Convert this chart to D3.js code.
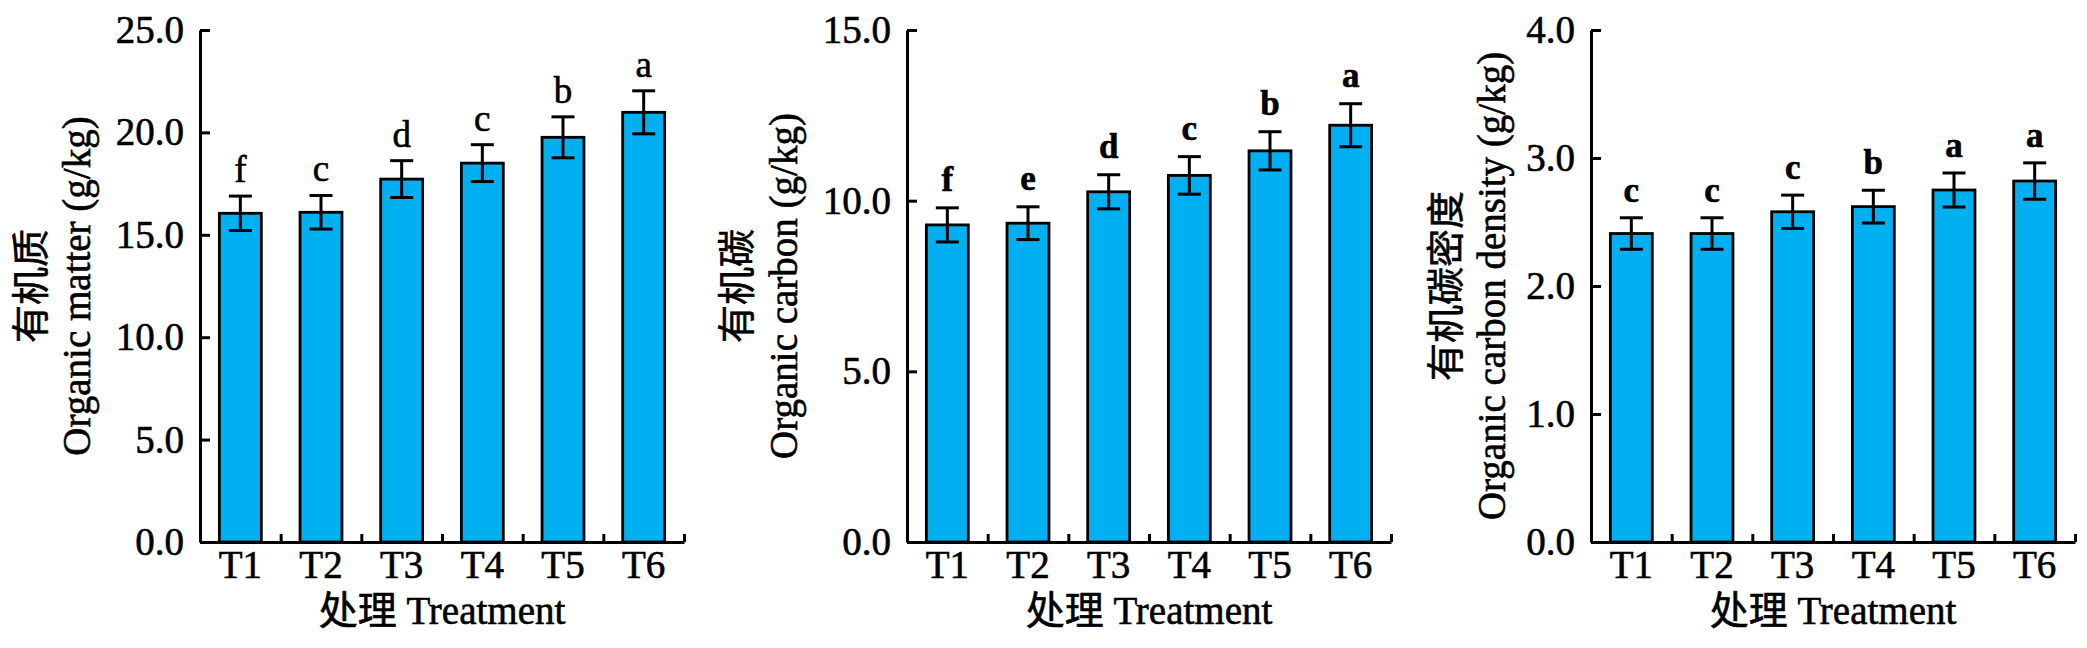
<!DOCTYPE html>
<html>
<head>
<meta charset="utf-8">
<script src="https://cdn.jsdelivr.net/npm/d3@7"></script>
<style>
  body { margin: 0; background: #fff; }
  svg text { font-family: "Liberation Serif", "Times New Roman", "Noto Sans CJK SC", serif; fill: #000; stroke: #000; stroke-width: 0.6px; }
</style>
</head>
<body>
<svg id="chart"></svg>
<script>
const size = {w: 2087, h: 648};
const plot = {t: 30, b: 542, w: 484};

// DATA
const treatments = ['T1', 'T2', 'T3', 'T4', 'T5', 'T6'];

const organicMatter = [16.05, 16.1, 17.72, 18.5, 19.76, 20.98];
const organicMatterErr = [0.84, 0.82, 0.9, 0.9, 1.0, 1.05];
const organicMatterLetters = ['f', 'c', 'd', 'c', 'b', 'a'];
const organicMatterTicks = [0, 5, 10, 15, 20, 25];

const organicCarbon = [9.29, 9.34, 10.26, 10.74, 11.46, 12.21];
const organicCarbonErr = [0.5, 0.48, 0.5, 0.55, 0.56, 0.63];
const organicCarbonLetters = ['f', 'e', 'd', 'c', 'b', 'a'];
const organicCarbonTicks = [0, 5, 10, 15];

const carbonDensity = [2.41, 2.41, 2.58, 2.62, 2.75, 2.82];
const carbonDensityErr = [0.123, 0.123, 0.13, 0.128, 0.133, 0.142];
const carbonDensityLetters = ['c', 'c', 'c', 'b', 'a', 'a'];
const carbonDensityTicks = [0, 1, 2, 3, 4];

const svg = d3.select('svg#chart')
    .attr('width', size.w)
    .attr('height', size.h);

svg.append('rect')
    .attr('width', size.w)
    .attr('height', size.h)
    .attr('fill', '#fff');

//PANELS
drawPanel({
    left: 200,
    values: organicMatter, errors: organicMatterErr, letters: organicMatterLetters,
    ticks: organicMatterTicks,
    label1: '有机质', label2: 'Organic matter (g/kg)',
    off1: 170, off2: 123,
    bold: false, letterGap: 14
});

drawPanel({
    left: 907,
    values: organicCarbon, errors: organicCarbonErr, letters: organicCarbonLetters,
    ticks: organicCarbonTicks,
    label1: '有机碳', label2: 'Organic carbon (g/kg)',
    off1: 171, off2: 123,
    bold: true, letterGap: 17
});

drawPanel({
    left: 1591,
    values: carbonDensity, errors: carbonDensityErr, letters: carbonDensityLetters,
    ticks: carbonDensityTicks,
    label1: '有机碳密度', label2: 'Organic carbon density (g/kg)',
    off1: 146, off2: 99,
    bold: true, letterGap: 16
});


//--------FUNCTIONS--------

function drawPanel(cfg){
    let g = svg.append('g')
        .attr('transform', `translate(${cfg.left}, 0)`);

    let x = d3.scaleBand()
        .domain(treatments)
        .range([0, plot.w])
        .paddingInner(0.48)
        .paddingOuter(0.24);

    let xEdges = d3.scaleLinear()
        .domain([0, treatments.length])
        .range([0, plot.w]);

    let y = d3.scaleLinear()
        .domain([0, d3.max(cfg.ticks)])
        .range([plot.b, plot.t]);

    //bars
    g.append('g')
        .selectAll('rect')
        .data(cfg.values)
        .join('rect')
        .attr('x', (d, i) => x(treatments[i]))
        .attr('y', d => y(d))
        .attr('width', x.bandwidth())
        .attr('height', d => y(0) - y(d))
        .attr('fill', '#00B0F0')
        .attr('stroke', '#000')
        .attr('stroke-width', 2.8);

    //error bars
    let capW = 23;
    let err = g.append('g')
        .selectAll('g')
        .data(cfg.values)
        .join('g')
        .attr('stroke', '#000')
        .attr('stroke-width', 3);

    err.append('line')
        .attr('x1', (d, i) => x(treatments[i]) + x.bandwidth() / 2)
        .attr('x2', (d, i) => x(treatments[i]) + x.bandwidth() / 2)
        .attr('y1', (d, i) => y(d + cfg.errors[i]))
        .attr('y2', (d, i) => y(d - cfg.errors[i]));

    err.append('line')
        .attr('x1', (d, i) => x(treatments[i]) + x.bandwidth() / 2 - capW / 2)
        .attr('x2', (d, i) => x(treatments[i]) + x.bandwidth() / 2 + capW / 2)
        .attr('y1', (d, i) => y(d + cfg.errors[i]))
        .attr('y2', (d, i) => y(d + cfg.errors[i]));

    err.append('line')
        .attr('x1', (d, i) => x(treatments[i]) + x.bandwidth() / 2 - capW / 2)
        .attr('x2', (d, i) => x(treatments[i]) + x.bandwidth() / 2 + capW / 2)
        .attr('y1', (d, i) => y(d - cfg.errors[i]))
        .attr('y2', (d, i) => y(d - cfg.errors[i]));

    //significance letters
    g.append('g')
        .selectAll('text')
        .data(cfg.letters)
        .join('text')
        .attr('x', (d, i) => x(treatments[i]) + x.bandwidth() / 2)
        .attr('y', (d, i) => y(cfg.values[i] + cfg.errors[i]) - cfg.letterGap)
        .attr('text-anchor', 'middle')
        .style('font-size', cfg.bold ? '35px' : '37px')
        .style('font-weight', cfg.bold ? 'bold' : 'normal')
        .text(d => d);

    //y axis
    g.append('g')
        .call(d3.axisLeft(y)
            .tickValues(cfg.ticks)
            .tickFormat(d3.format('.1f'))
            .tickSizeInner(-10)
            .tickSizeOuter(0)
            .tickPadding(16));

    //x axis (labels)
    g.append('g')
        .attr('transform', `translate(0, ${plot.b})`)
        .call(d3.axisBottom(x)
            .tickSize(0)
            .tickPadding(8));

    //x axis (ticks between groups)
    g.append('g')
        .attr('transform', `translate(0, ${plot.b})`)
        .call(d3.axisBottom(xEdges)
            .tickValues(d3.range(1, treatments.length + 1))
            .tickSizeInner(-8)
            .tickSizeOuter(0)
            .tickFormat(''))
        .call(a => a.select('.domain').remove());

    g.selectAll('.domain, .tick line')
        .attr('stroke', '#000')
        .attr('stroke-width', 3);

    g.selectAll('.tick text')
        .style('font-size', '39px')
        .attr('fill', '#000');

    //axis titles
    g.append('text')
        .attr('x', plot.w / 2)
        .attr('y', 624)
        .attr('text-anchor', 'middle')
        .style('font-size', '39px')
        .text('处理 Treatment');

    let midY = (plot.t + plot.b) / 2;

    g.append('text')
        .attr('transform', `translate(${-cfg.off1}, ${midY}) rotate(-90)`)
        .attr('text-anchor', 'middle')
        .attr('dy', '0.38em')
        .style('font-size', '38px')
        .text(cfg.label1);

    g.append('text')
        .attr('transform', `translate(${-cfg.off2}, ${midY}) rotate(-90)`)
        .attr('text-anchor', 'middle')
        .attr('dy', '0.33em')
        .style('font-size', '39px')
        .text(cfg.label2);
}
</script>
</body>
</html>
